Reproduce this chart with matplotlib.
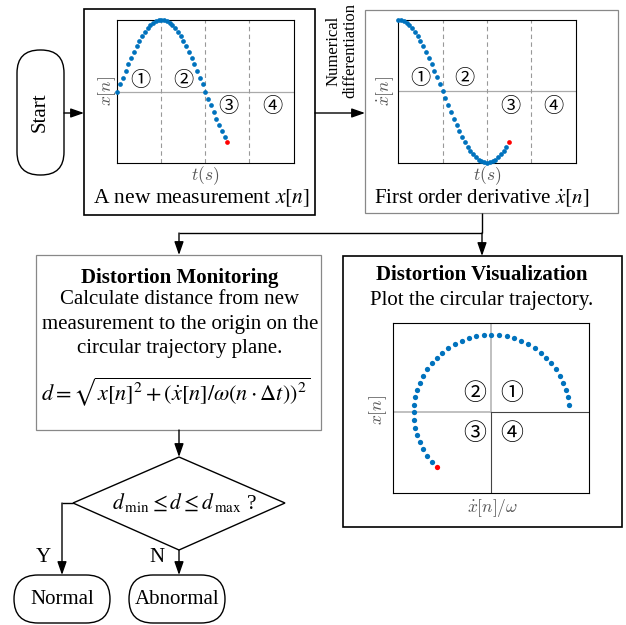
import numpy as np
import matplotlib
matplotlib.use("Agg")
import matplotlib.pyplot as plt
from matplotlib.patches import Rectangle, FancyBboxPatch, Polygon

# ---------------- data (normalised samples) ----------------
x_n = [0.000, 0.098, 0.195, 0.290, 0.383, 0.471, 0.556, 0.634, 0.707, 0.773,
       0.832, 0.882, 0.924, 0.957, 0.981, 0.995, 1.000, 0.995, 0.981, 0.957,
       0.924, 0.882, 0.832, 0.773, 0.707, 0.634, 0.556, 0.471, 0.383, 0.290,
       0.195, 0.098, 0.000, -0.098, -0.195, -0.290, -0.383, -0.471, -0.556,
       -0.634, -0.707]
xdot_n = [1.000, 0.995, 0.981, 0.957, 0.924, 0.882, 0.832, 0.773, 0.707, 0.634,
          0.556, 0.471, 0.383, 0.290, 0.195, 0.098, 0.000, -0.098, -0.195, -0.290,
          -0.383, -0.471, -0.556, -0.634, -0.707, -0.773, -0.832, -0.882, -0.924,
          -0.957, -0.981, -0.995, -1.000, -0.995, -0.981, -0.957, -0.924, -0.882,
          -0.832, -0.773, -0.707]
samples_per_quarter = 16
time_quadrants = ["①", "②", "③", "④"]
circle_quadrants = ["②", "①", "③", "④"]

BLUE = "#0072BD"
RED = "#FF0000"
GRAYTXT = "#555555"

W, H = 626, 625
plt.rcParams["font.family"] = ["Liberation Serif", "DejaVu Serif"]
plt.rcParams["mathtext.fontset"] = "stix"
fig = plt.figure(figsize=(W / 100, H / 100), dpi=100)
ax = fig.add_axes([0, 0, 1, 1])
ax.set_xlim(0, W)
ax.set_ylim(H, 0)
ax.axis("off")

FS = 15
CIRC_FONT = ["Noto Sans CJK SC", "DejaVu Sans"]


def frac(x0, y0, x1, y1):
    return [x0 / W, 1 - y1 / H, (x1 - x0) / W, (y1 - y0) / H]


def arrow(p0, p1):
    ax.annotate("", xy=p1, xytext=p0,
                arrowprops=dict(arrowstyle="-|>,head_length=0.8,head_width=0.28",
                                color="black", lw=1.0, mutation_scale=10,
                                shrinkA=0, shrinkB=0))


def line(xs, ys, color="black", lw=1.0):
    ax.plot(xs, ys, color=color, lw=lw, solid_capstyle="butt")


# ---------------- boxes ----------------
ax.add_patch(FancyBboxPatch((17, 50), 47, 125, boxstyle="round,pad=0,rounding_size=23",
                            fc="white", ec="black", lw=1.0))
ax.text(40.5, 112.5, "Start", rotation=90, ha="center", va="center", fontsize=FS)

ax.add_patch(Rectangle((84, 9), 231, 206, fc="none", ec="black", lw=1.2))
ax.add_patch(Rectangle((365, 10), 253, 203, fc="none", ec="#888888", lw=0.9))
ax.add_patch(Rectangle((36, 255), 285, 175, fc="none", ec="#888888", lw=0.9))
ax.add_patch(Rectangle((343, 256), 279, 271, fc="none", ec="black", lw=1.2))

ax.add_patch(FancyBboxPatch((14, 575), 96, 48, boxstyle="round,pad=0,rounding_size=24",
                            fc="white", ec="black", lw=1.0))
ax.add_patch(FancyBboxPatch((129, 575), 96, 48, boxstyle="round,pad=0,rounding_size=24",
                            fc="white", ec="black", lw=1.0))
ax.text(62, 600, "Normal", ha="center", va="center", fontsize=FS)
ax.text(177, 600, "Abnormal", ha="center", va="center", fontsize=FS)

ax.add_patch(Polygon([(179, 457), (285, 503), (179, 550), (73, 503)], closed=True,
                     fc="white", ec="black", lw=1.0))
ax.text(185, 503, r"$d_{\,\mathrm{min}} \leq d \leq d_{\,\mathrm{max}}$ ?", ha="center",
        va="center", fontsize=15.5)

# ---------------- connectors ----------------
arrow((64, 113), (84, 113))
arrow((315, 113), (365, 113))
line([482, 482], [213, 233])
line([179, 482], [233, 233])
arrow((179, 233), (179, 255))
arrow((482, 233), (482, 256))
arrow((179, 430), (179, 457))
line([73, 62], [503, 503])
arrow((62, 503), (62, 575))
arrow((179, 550), (179, 575))
ax.text(43, 558, "Y", ha="center", va="center", fontsize=FS)
ax.text(157, 558, "N", ha="center", va="center", fontsize=FS)

ax.text(342, 51, "Numerical\ndifferentiation", rotation=90, ha="center", va="center",
        fontsize=12, linespacing=1.05)

# ---------------- texts ----------------
ax.text(201, 198, r"A new measurement $x[n]$", ha="center", va="center", fontsize=15.5)
ax.text(482, 198, r"First order derivative $\dot{x}[n]$", ha="center", va="center", fontsize=FS)

ax.text(180, 278, "Distortion Monitoring", ha="center", va="center", fontsize=FS,
        fontweight="bold")
ax.text(180, 300, "Calculate distance from new", ha="center", va="center", fontsize=FS)
ax.text(180, 325, "measurement to the origin on the", ha="center", va="center", fontsize=FS)
ax.text(180, 349, "circular trajectory plane.", ha="center", va="center", fontsize=FS)
ax.text(176, 392, r"$d=\sqrt{x[n]^2+(\dot{x}[n]/\omega(n\cdot\Delta t))^2}$",
        ha="center", va="center", fontsize=16)

ax.text(482, 275, "Distortion Visualization", ha="center", va="center", fontsize=FS,
        fontweight="bold")
ax.text(482, 300, "Plot the circular trajectory.", ha="center", va="center", fontsize=FS)


# ---------------- time plots ----------------
def time_plot(rect, values, ylabel, ylabel_xy, tlabel_xy, qpos):
    a = fig.add_axes(frac(*rect))
    a.set_facecolor("none")
    n = np.arange(len(values))
    v = np.asarray(values)
    span = 4 * samples_per_quarter
    a.set_xlim(0, span)
    a.set_ylim(-1, 1)
    a.set_xticks([])
    a.set_yticks([])
    for s in a.spines.values():
        s.set_linewidth(0.8)
    a.axhline(0, color="#aaaaaa", lw=0.9, zorder=1)
    for q in (1, 2, 3):
        a.axvline(q * samples_per_quarter, color="#999999", lw=0.8, ls=(0, (4, 3)), zorder=1)
    a.plot(n[:-1], v[:-1], "o", ms=3.4, color=BLUE, mec="none", clip_on=False, zorder=3)
    a.plot(n[-1:], v[-1:], "o", ms=3.4, color=RED, mec="none", clip_on=False, zorder=3)
    for lab, (qx, qy) in zip(time_quadrants, qpos):
        ax.text(qx, qy, lab, ha="center", va="center", fontsize=14.5, family=CIRC_FONT)
    ax.text(*ylabel_xy, ylabel, rotation=90, ha="center", va="center", fontsize=12.5,
            color=GRAYTXT, math_fontfamily="cm")
    ax.text(*tlabel_xy, r"$t(s)$", ha="center", va="center", fontsize=12.5,
            color=GRAYTXT, math_fontfamily="cm")
    return a


time_plot((117.3, 20, 293.5, 163), x_n, r"$x[n]$", (107, 91), (205, 176),
          [(140, 80), (183, 80), (228, 107), (272, 107)])
time_plot((398.3, 20, 575.7, 162.7), xdot_n, r"$\dot{x}[n]$", (385, 91), (487, 176),
          [(420, 79), (464, 79), (510, 107), (553, 107)])

# ---------------- circle plot ----------------
c = fig.add_axes(frac(393.3, 323.3, 589.3, 492.7))
c.set_facecolor("none")
c.set_xlim(-1.267, 1.262)
c.set_ylim(-1.035, 1.151)
c.set_xticks([])
c.set_yticks([])
for s in c.spines.values():
    s.set_linewidth(0.8)
c.plot([0, 0], [0, 1.151], color="#bbbbbb", lw=1.3, zorder=1)
c.plot([-1.267, 0], [0, 0], color="#bbbbbb", lw=1.3, zorder=1)
c.plot([0, 0], [-1.035, 0], color="#444444", lw=0.8, zorder=1)
c.plot([0, 1.262], [0, 0], color="#444444", lw=0.8, zorder=1)
xd = np.asarray(xdot_n)
xv = np.asarray(x_n)
c.plot(xd[1:-1], xv[1:-1], "o", ms=3.8, color=BLUE, mec="none", clip_on=False, zorder=3)
c.plot(xd[-1:], xv[-1:], "o", ms=3.8, color=RED, mec="none", clip_on=False, zorder=3)
for lab, (qx, qy) in zip(circle_quadrants, [(475, 394), (512, 394), (475, 434), (512, 434)]):
    ax.text(qx, qy, lab, ha="center", va="center", fontsize=16.5, family=CIRC_FONT)
ax.text(378, 410, r"$x[n]$", rotation=90, ha="center", va="center", fontsize=12.5,
        color=GRAYTXT, math_fontfamily="cm")
ax.text(493, 508, r"$\dot{x}[n]/\omega$", ha="center", va="center", fontsize=12.5,
        color=GRAYTXT, math_fontfamily="cm")

fig.savefig("out.png", dpi=100)
